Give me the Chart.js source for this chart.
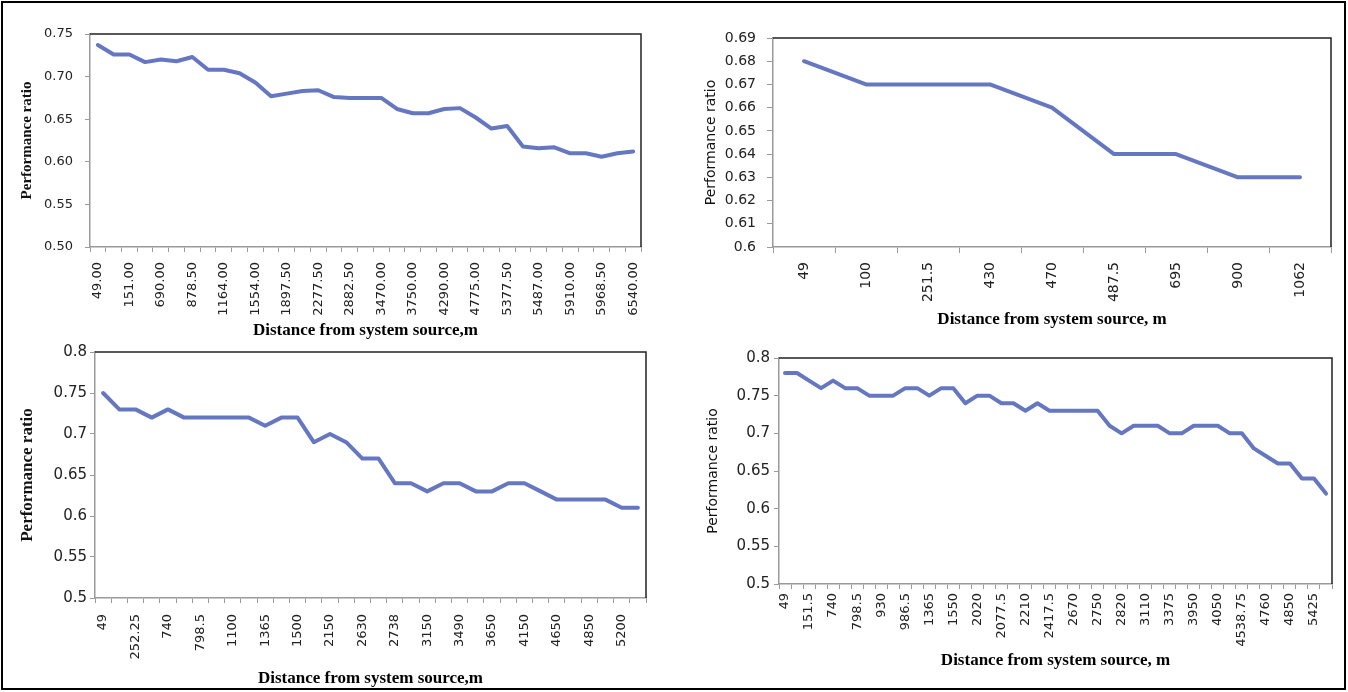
<!DOCTYPE html>
<html>
<head>
<meta charset="utf-8">
<script src="https://cdn.jsdelivr.net/npm/chart.js@4.4.1/dist/chart.umd.min.js"></script>
<style>
  html, body { margin: 0; padding: 0; background: #fff; overflow: hidden; }
  #frame { position: absolute; left: 1px; top: 1px; width: 1341px; height: 685px; border: 2.5px solid #000; }
  canvas { position: absolute; }
</style>
</head>
<body>
<div id="frame"></div>
<canvas id="chart1"></canvas>
<canvas id="chart2"></canvas>
<canvas id="chart3"></canvas>
<canvas id="chart4"></canvas>
<script>
// top-left panel (every other category is labelled)
const labels1 = ['49.00', '', '151.00', '', '690.00', '', '878.50', '', '1164.00', '', '1554.00', '',
  '1897.50', '', '2277.50', '', '2882.50', '', '3470.00', '', '3750.00', '', '4290.00', '', '4775.00', '',
  '5377.50', '', '5487.00', '', '5910.00', '', '5968.50', '', '6540.00'];
const ratio1 = [0.737, 0.726, 0.726, 0.717, 0.720, 0.718, 0.723, 0.708, 0.708, 0.704,
  0.693, 0.677, 0.680, 0.683, 0.684, 0.676, 0.675, 0.675, 0.675, 0.662,
  0.657, 0.657, 0.662, 0.663, 0.652, 0.639, 0.642, 0.618, 0.616, 0.617,
  0.610, 0.610, 0.606, 0.610, 0.612];

// top-right panel
const labels2 = ['49', '100', '251.5', '430', '470', '487.5', '695', '900', '1062'];
const ratio2 = [0.68, 0.67, 0.67, 0.67, 0.66, 0.64, 0.64, 0.63, 0.63];

// bottom-left panel
const labels3 = ['49', '', '252.25', '', '740', '', '798.5', '', '1100', '', '1365', '', '1500', '',
  '2150', '', '2630', '', '2738', '', '3150', '', '3490', '', '3650', '', '4150', '', '4650', '',
  '4850', '', '5200', ''];
const ratio3 = [0.75, 0.73, 0.73, 0.72, 0.73, 0.72, 0.72, 0.72, 0.72, 0.72,
  0.71, 0.72, 0.72, 0.69, 0.70, 0.69, 0.67, 0.67, 0.64, 0.64,
  0.63, 0.64, 0.64, 0.63, 0.63, 0.64, 0.64, 0.63, 0.62, 0.62,
  0.62, 0.62, 0.61, 0.61];

// bottom-right panel
const labels4 = ['49', '', '151.5', '', '740', '', '798.5', '', '930', '', '986.5', '', '1365', '',
  '1550', '', '2020', '', '2077.5', '', '2210', '', '2417.5', '', '2670', '', '2750', '', '2820', '',
  '3110', '', '3375', '', '3950', '', '4050', '', '4538.75', '', '4760', '', '4850', '', '5425', ''];
const ratio4 = [0.78, 0.78, 0.77, 0.76, 0.77, 0.76, 0.76, 0.75, 0.75, 0.75,
  0.76, 0.76, 0.75, 0.76, 0.76, 0.74, 0.75, 0.75, 0.74, 0.74,
  0.73, 0.74, 0.73, 0.73, 0.73, 0.73, 0.73, 0.71, 0.70, 0.71,
  0.71, 0.71, 0.70, 0.70, 0.71, 0.71, 0.71, 0.70, 0.70, 0.68,
  0.67, 0.66, 0.66, 0.64, 0.64, 0.62];

const SANS = '"DejaVu Sans", Verdana, sans-serif';
const SERIF = '"Liberation Serif", "Times New Roman", serif';
const LINE = '#6677c2';
const AXIS = '#9a9a9a';

// dark border on the top and right of the plot area (Excel style)
const plotFrame = {
  id: 'plotFrame',
  afterDraw(chart) {
    const { ctx, chartArea: a } = chart;
    ctx.save();
    ctx.strokeStyle = '#222';
    ctx.lineWidth = 1.5;
    ctx.beginPath();
    ctx.moveTo(a.left, a.top);
    ctx.lineTo(a.right, a.top);
    ctx.lineTo(a.right, a.bottom);
    ctx.stroke();
    ctx.restore();
  }
};

function panel(id, b, labels, values, yScale, texts) {
  const canvas = document.getElementById(id);
  const left = b.L - b.yW, top = b.T - b.pt;
  canvas.width = b.R + b.pr - left;
  canvas.height = b.B + b.xH - top;
  canvas.style.left = left + 'px';
  canvas.style.top = top + 'px';

  // "General" number format unless a fixed number of decimals is asked for
  const yTicks = {
    stepSize: yScale.step, padding: b.yPad, color: '#222', font: { family: SANS, size: b.yFont },
    callback: v => yScale.fixed ? v.toFixed(yScale.fixed) : String(parseFloat(v.toFixed(3)))
  };

  return new Chart(canvas, {
    type: 'line',
    data: {
      labels: labels,
      datasets: [{
        data: values,
        borderColor: LINE,
        borderWidth: 4,
        pointRadius: 0,
        tension: 0,
        borderJoinStyle: 'round',
        borderCapStyle: 'round'
      }]
    },
    options: {
      responsive: false,
      animation: false,
      layout: { padding: { top: b.pt, right: b.pr, left: 0, bottom: 0 } },
      plugins: { legend: { display: false }, tooltip: { enabled: false } },
      scales: {
        x: {
          offset: true,
          grid: { offset: true, drawOnChartArea: false, tickLength: b.xTick, color: AXIS },
          border: { color: AXIS, width: 1.5 },
          ticks: { autoSkip: false, maxRotation: 90, minRotation: 90, padding: b.xPad, color: '#222',
            font: { family: SANS, size: b.xFont } },
          title: { display: true, text: texts.x, color: '#000', padding: { top: 0, bottom: 4 },
            font: { family: SERIF, weight: 'bold', size: b.xTitle } },
          afterFit(s) { s.height = b.xH; s.paddingLeft = 0; s.paddingRight = 0; }
        },
        y: {
          min: yScale.min,
          max: yScale.max,
          grid: { drawOnChartArea: false, tickLength: b.yTick, color: AXIS },
          border: { color: AXIS, width: 1.5 },
          ticks: yTicks,
          title: { display: true, text: 'Performance ratio', color: '#111', padding: { top: 2, bottom: 0 },
            font: texts.yFont },
          afterFit(s) { s.width = b.yW; s.paddingTop = 0; s.paddingBottom = 0; }
        }
      }
    },
    plugins: [plotFrame]
  });
}

panel('chart1',
  { L: 90, T: 34, R: 641, B: 247, yW: 74, pt: 12, pr: 8, xH: 98, xTick: 5, xPad: 10, yTick: 5, yPad: 12, yFont: 13, xFont: 13, xTitle: 17 },
  labels1, ratio1, { min: 0.5, max: 0.75, step: 0.05, fixed: 2 },
  { x: 'Distance from system source,m', yFont: { family: SERIF, weight: 'bold', size: 15 } });

panel('chart2',
  { L: 773, T: 38, R: 1331, B: 247, yW: 72, pt: 10, pr: 8, xH: 87, xTick: 6, xPad: 9, yTick: 6, yPad: 11, yFont: 14, xFont: 14, xTitle: 17 },
  labels2, ratio2, { min: 0.6, max: 0.69, step: 0.01 },
  { x: 'Distance from system source, m', yFont: { family: SANS, size: 14 } });

panel('chart3',
  { L: 95, T: 352, R: 646, B: 598, yW: 80, pt: 10, pr: 8, xH: 95, xTick: 5, xPad: 11, yTick: 5, yPad: 3, yFont: 15, xFont: 13, xTitle: 17 },
  labels3, ratio3, { min: 0.5, max: 0.8, step: 0.05 },
  { x: 'Distance from system source,m', yFont: { family: SERIF, weight: 'bold', size: 17 } });

panel('chart4',
  { L: 779, T: 358, R: 1332, B: 584, yW: 76, pt: 10, pr: 8, xH: 91, xTick: 5, xPad: 4, yTick: 5, yPad: 4, yFont: 15, xFont: 13, xTitle: 17 },
  labels4, ratio4, { min: 0.5, max: 0.8, step: 0.05 },
  { x: 'Distance from system source, m', yFont: { family: SANS, size: 14 } });
</script>
</body>
</html>
